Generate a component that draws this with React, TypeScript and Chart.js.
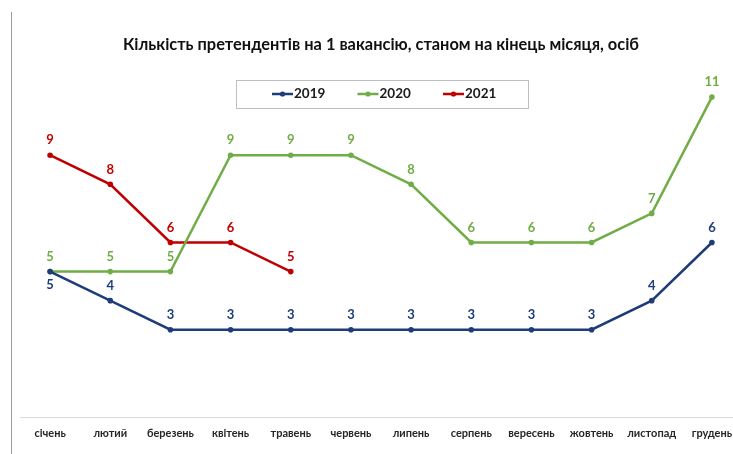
import React, { useEffect, useRef } from "react";
import { Chart, registerables } from "chart.js";

Chart.register(...registerables);

const months = [
  "січень", "лютий", "березень", "квітень", "травень", "червень",
  "липень", "серпень", "вересень", "жовтень", "листопад", "грудень",
];
const values2019 = [5, 4, 3, 3, 3, 3, 3, 3, 3, 3, 4, 6];
const values2020 = [5, 5, 5, 9, 9, 9, 8, 6, 6, 6, 7, 11];
const values2021 = [9, 8, 6, 6, 5];
const seriesNames = ["2019", "2020", "2021"];
const seriesColors = ["#1F3C7A", "#70AD47", "#C00000"];
const titleText = "Кількість претендентів на 1 вакансію, станом на кінець місяця, осіб";

const FONT = "Lato, 'Open Sans', sans-serif";

const pageBorder = {
  id: "pageBorder",
  beforeDraw(chart: any) {
    const ctx = chart.ctx;
    ctx.save();
    ctx.fillStyle = "#ffffff";
    ctx.fillRect(0, 0, chart.width, chart.height);
    ctx.strokeStyle = "#9a9a9a";
    ctx.lineWidth = 1;
    ctx.beginPath();
    ctx.moveTo(11.5, 12);
    ctx.lineTo(11.5, chart.height);
    ctx.stroke();
    ctx.restore();
  },
};

const dataLabels = {
  id: "dataLabels",
  afterDatasetsDraw(chart: any) {
    const ctx = chart.ctx;
    ctx.save();
    ctx.font = `bold 13px ${FONT}`;
    ctx.textAlign = "center";
    ctx.textBaseline = "middle";
    chart.data.datasets.forEach((ds: any, di: number) => {
      const meta = chart.getDatasetMeta(di);
      ctx.fillStyle = ds.borderColor;
      meta.data.forEach((pt: any, i: number) => {
        const v = ds.data[i];
        if (v == null) return;
        const below = di === 0 && i === 0;
        ctx.fillText(String(v), pt.x, below ? pt.y + 13 : pt.y - 15);
      });
    });
    ctx.restore();
  },
};

const legendBox = {
  id: "legendBox",
  afterDraw(chart: any) {
    const ctx = chart.ctx;
    ctx.save();
    const bx = 236.5, by = 80.5, bw = 292, bh = 28;
    ctx.fillStyle = "#ffffff";
    ctx.fillRect(bx, by, bw, bh);
    ctx.strokeStyle = "#bfbfbf";
    ctx.lineWidth = 1;
    ctx.strokeRect(bx, by, bw, bh);
    const cy = 94;
    chart.data.datasets.forEach((ds: any, i: number) => {
      const x0 = 272 + i * 85.5;
      ctx.strokeStyle = ds.borderColor;
      ctx.lineWidth = 2.5;
      ctx.beginPath();
      ctx.moveTo(x0, cy);
      ctx.lineTo(x0 + 21, cy);
      ctx.stroke();
      ctx.fillStyle = ds.borderColor;
      ctx.beginPath();
      ctx.arc(x0 + 10.5, cy, 2.6, 0, Math.PI * 2);
      ctx.fill();
      ctx.fillStyle = "#1a1a1a";
      ctx.font = `bold 13.5px ${FONT}`;
      ctx.textAlign = "left";
      ctx.textBaseline = "middle";
      ctx.fillText(ds.label, x0 + 22, cy);
    });
    ctx.restore();
  },
};

export default function App() {
  const ref = useRef<HTMLCanvasElement | null>(null);

  useEffect(() => {
    if (!ref.current) return;
    const all = [values2019, values2020, values2021];
    const chart = new Chart(ref.current, {
      type: "line",
      data: {
        labels: months,
        datasets: all.map((vals, i) => ({
          label: seriesNames[i],
          data: vals,
          borderColor: seriesColors[i],
          backgroundColor: seriesColors[i],
          pointBackgroundColor: seriesColors[i],
          pointBorderColor: seriesColors[i],
          borderWidth: 2.5,
          pointRadius: 2.8,
          pointBorderWidth: 0,
          tension: 0,
          fill: false,
        })),
      },
      options: {
        animation: false,
        responsive: false,
        devicePixelRatio: 1,
        layout: { padding: { left: 20, right: 8, top: 0, bottom: 3.8 } },
        plugins: {
          legend: { display: false },
          tooltip: { enabled: false },
          title: {
            display: true,
            text: titleText,
            color: "#111111",
            font: { family: FONT, weight: "bold", size: 16.4, lineHeight: 1.2 },
            padding: { top: 35, bottom: 13.3 },
          },
        },
        scales: {
          x: {
            type: "category",
            offset: true,
            grid: { display: false, drawTicks: false },
            border: { display: true, color: "#d9d9d9", width: 1 },
            ticks: {
              color: "#262626",
              font: { family: FONT, weight: "bold", size: 11, lineHeight: 1.2 },
              padding: 10,
              maxRotation: 0,
              autoSkip: false,
            },
          },
          y: { display: false, min: 0, max: 12 },
        },
      },
      plugins: [pageBorder, dataLabels, legendBox],
    });
    return () => chart.destroy();
  }, []);

  return (
    <div
      style={{
        position: "fixed",
        left: 0,
        top: 0,
        width: 733,
        height: 454,
        overflow: "hidden",
        background: "#ffffff",
      }}
    >
      <canvas ref={ref} width={750} height={454} style={{ display: "block" }} />
    </div>
  );
}
